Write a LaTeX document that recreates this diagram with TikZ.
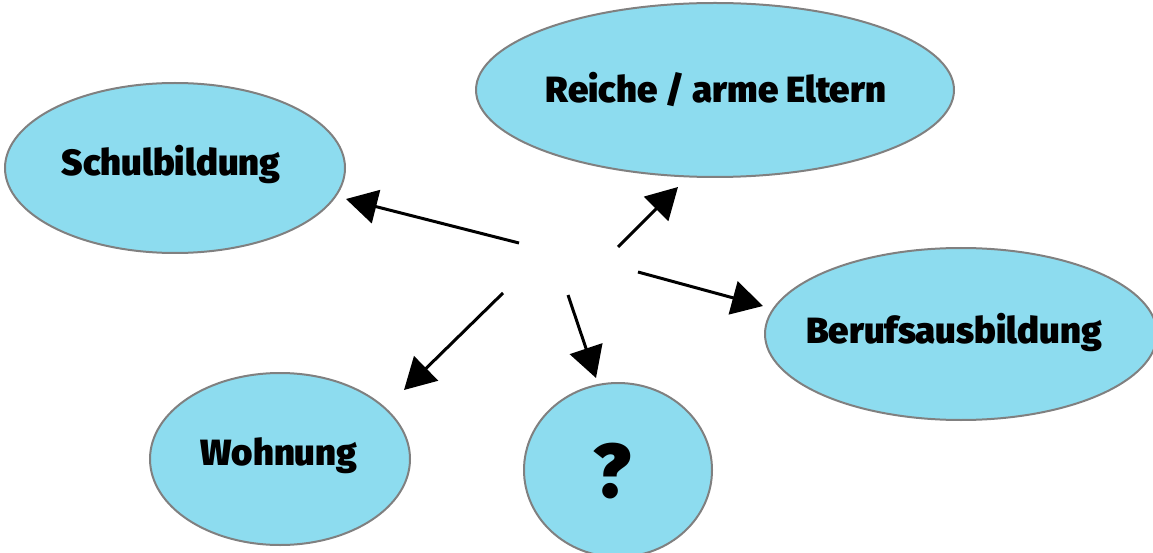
\documentclass[tikz,border=0pt]{standalone}
\usepackage{fontspec}
\setmainfont{Fira Sans}[UprightFont={* Black}]
\usetikzlibrary{shapes.geometric,arrows.meta}
\definecolor{fillblue}{HTML}{8DDCEF}
\definecolor{rimgray}{HTML}{808080}
\tikzset{
  blob/.style={ellipse,fill=fillblue,draw=rimgray,line width=2pt,inner sep=0pt},
  lab/.style={font=\fontsize{36.5}{40}\selectfont},
  con/.style={line width=3pt,-{Triangle[length=31pt,width=34pt]}}
}
\begin{document}
\begin{tikzpicture}[x=1pt,y=-1pt]
\useasboundingbox (0,0) rectangle (1153,553);
\node[blob,minimum width=340pt,minimum height=170pt] (schul) at (175,168) {};
\node[lab] (schult) at (171,165) {Schulbildung};
\node[blob,minimum width=478pt,minimum height=174pt] (eltern) at (715,90) {};
\node[lab] (elternt) at (716,90) {Reiche / arme Eltern};
\node[blob,minimum width=392pt,minimum height=172pt] (beruf) at (961,334) {};
\node[lab] (beruft) at (954,333) {Berufsausbildung};
\node[blob,minimum width=260pt,minimum height=172pt] (wohn) at (280,459) {};
\node[lab] (wohnt) at (279,456) {Wohnung};
\node[blob,minimum width=188pt,minimum height=174pt] (frage) at (618,470) {};
\node[font=\fontsize{76}{80}\selectfont] (fraget) at (612,471) {?};
\coordinate (s1) at (519,243); \coordinate (e1) at (346,199);
\coordinate (s2) at (618,247); \coordinate (e2) at (678,187);
\coordinate (s3) at (638,272); \coordinate (e3) at (763,306);
\coordinate (s4) at (503,293); \coordinate (e4) at (404,390);
\coordinate (s5) at (568,295); \coordinate (e5) at (596,378);
\draw[con] (s1) -- (e1);
\draw[con] (s2) -- (e2);
\draw[con] (s3) -- (e3);
\draw[con] (s4) -- (e4);
\draw[con] (s5) -- (e5);
\end{tikzpicture}
\end{document}
